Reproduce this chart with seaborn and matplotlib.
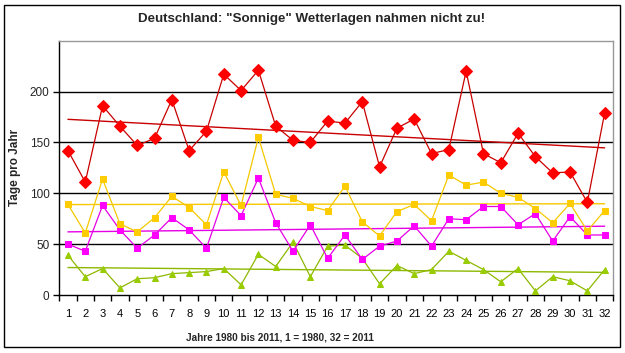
import numpy as np
import pandas as pd
import matplotlib
matplotlib.use("Agg")
import matplotlib.pyplot as plt
import seaborn as sns
from matplotlib.patches import Rectangle
from matplotlib.ticker import FixedLocator, NullFormatter

years = list(range(1, 33))
red = [142, 111, 186, 166, 147, 154, 192, 142, 161, 217, 201, 221, 166, 152, 150, 171,
       169, 190, 126, 164, 173, 139, 143, 220, 139, 130, 159, 136, 120, 121, 91, 179]
yellow = [89, 61, 114, 70, 62, 76, 97, 86, 69, 121, 88, 155, 99, 95, 87, 83,
          107, 72, 58, 82, 89, 73, 118, 108, 111, 100, 96, 85, 71, 90, 63, 83]
magenta = [50, 43, 88, 64, 46, 59, 76, 64, 46, 96, 78, 115, 71, 43, 69, 36,
           59, 35, 48, 53, 68, 48, 75, 74, 87, 87, 69, 80, 53, 77, 59, 59]
green = [39, 18, 26, 7, 16, 17, 21, 22, 23, 26, 10, 40, 28, 52, 18, 48,
         49, 36, 11, 29, 21, 25, 43, 34, 25, 13, 26, 4, 18, 14, 4, 25]

title = 'Deutschland: "Sonnige" Wetterlagen nahmen nicht zu!'
xlabel = "Jahre 1980 bis 2011, 1 = 1980, 32 = 2011"
ylabel = "Tage pro Jahr"

sns.set_theme(style="white")
plt.rcParams["font.family"] = ["Liberation Sans", "DejaVu Sans"]

fig = plt.figure(figsize=(6.25, 3.53), dpi=100)
ax = fig.add_axes([59.3 / 625, 1 - 295 / 353, (613.3 - 59.3) / 625, (295 - 40.7) / 353])

df = pd.DataFrame({"x": years, "red": red, "yellow": yellow, "magenta": magenta, "green": green})

series = [
    ("green", "#8DB800", "#99CC00", "^", 4.8),
    ("magenta", "#E600E6", "#FF00FF", "s", 3.8),
    ("yellow", "#F5C800", "#FFCC00", "s", 4.5),
    ("red", "#C80000", "#FF0000", "D", 6.5),
]
for col, lc, mc, mk, ms in series:
    sns.regplot(data=df, x="x", y=col, ax=ax, scatter=False, ci=None, truncate=True,
                line_kws=dict(color=lc, lw=1.0, zorder=2))
    sns.lineplot(data=df, x="x", y=col, ax=ax, color=lc, lw=0.9, marker=mk,
                 markersize=ms, markerfacecolor=mc, markeredgecolor=mc, zorder=3)

ax.set_xlim(0.5, 32.5)
ax.set_ylim(0, 250)
ax.set_yticks([0, 50, 100, 150, 200])
ax.set_xticks(years)
ax.xaxis.set_minor_locator(FixedLocator(np.arange(0.5, 33, 1)))
ax.xaxis.set_minor_formatter(NullFormatter())
ax.tick_params(axis="x", which="major", length=0, labelsize=8, pad=10, colors="black")
ax.tick_params(axis="x", which="minor", length=4, width=1, color="black", bottom=True)
ax.tick_params(axis="y", which="major", length=4, width=1, color="black", left=True,
               labelsize=8.5, pad=3)
for y in [50, 100, 150, 200]:
    ax.axhline(y, color="black", lw=1.0, zorder=1)
for s in ["left", "bottom"]:
    ax.spines[s].set_color("black")
    ax.spines[s].set_linewidth(1.0)
for s in ["top", "right"]:
    ax.spines[s].set_color("#999999")
    ax.spines[s].set_linewidth(1.0)
    ax.spines[s].set_visible(True)

ax.set_xlabel(xlabel, fontsize=7.2, fontweight="bold", labelpad=10)
ax.set_ylabel(ylabel, fontsize=8.5, fontweight="bold", labelpad=8)
ax.xaxis.set_label_coords((280 - 59.3) / (613.3 - 59.3), -(338 - 295) / (295 - 40.7))
ax.yaxis.set_label_coords(-(59.3 - 15) / (613.3 - 59.3), (295 - 167) / (295 - 40.7))
ax.xaxis.label.set_verticalalignment("center")
ax.yaxis.label.set_verticalalignment("center")

fig.text(312 / 625, 1 - 19 / 353, title, ha="center", va="center", fontsize=9.6, fontweight="bold")

fig.patches.append(Rectangle((3.5 / 625, 1 - 346.5 / 353), (620 - 3.5) / 625, (346.5 - 5) / 353,
                             transform=fig.transFigure, fill=False, edgecolor="black", lw=1.0))

fig.savefig("out.png", dpi=100)
